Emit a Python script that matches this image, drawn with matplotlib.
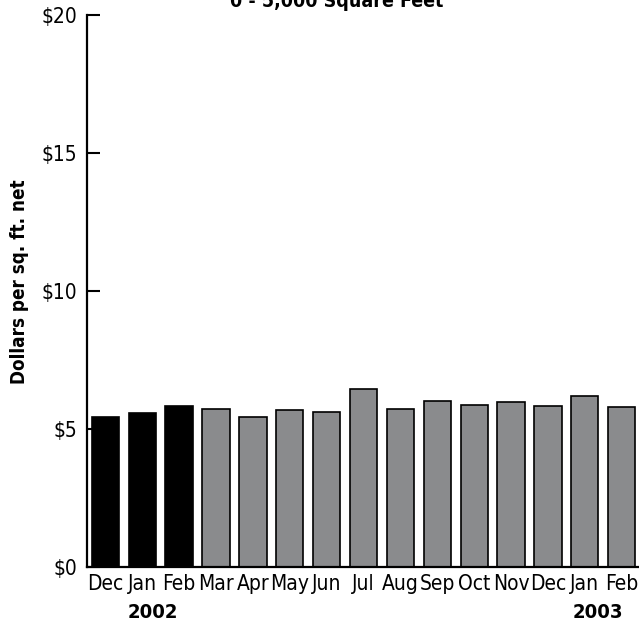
import matplotlib
matplotlib.use("Agg")
from matplotlib import pyplot as plt

months = ["Dec", "Jan", "Feb", "Mar", "Apr", "May", "Jun", "Jul",
          "Aug", "Sep", "Oct", "Nov", "Dec", "Jan", "Feb"]
values = [5.43, 5.58, 5.85, 5.71, 5.45, 5.69, 5.63, 6.46,
          5.73, 6.02, 5.87, 5.98, 5.84, 6.18, 5.80]
is_dark = [True, True, True] + [False] * 12
years = ["2002", "2003"]
year_pos = [1.3, 13.35]
yticks = [0, 5, 10, 15, 20]
ytick_labels = ["$0", "$5", "$10", "$15", "$20"]

plt.rcParams["font.family"] = ["DejaVu Sans"]
plt.rcParams["font.stretch"] = "condensed"

fig = plt.figure(figsize=(6.39, 6.29), dpi=100)
ax = fig.add_axes([0.136, 0.0986, 0.864, 0.8775])

colors = ["black" if d else "#8a8b8d" for d in is_dark]
x = list(range(len(months)))
ax.bar(x, values, width=0.74, color=colors, edgecolor="black", linewidth=1.2)

ax.set_xlim(-0.5, 14.47)
ax.set_ylim(0, 20)
ax.set_yticks(yticks)
ax.set_yticklabels(ytick_labels, fontsize=15)
ax.set_xticks(x)
ax.set_xticklabels(months, fontsize=15)
ax.tick_params(axis="y", direction="in", length=9.5, width=1.5, pad=7)
ax.tick_params(axis="x", length=0, pad=5)

for s in ["top", "right"]:
    ax.spines[s].set_visible(False)
ax.spines["left"].set_linewidth(1.6)
ax.spines["bottom"].set_linewidth(1.6)

for yr, p in zip(years, year_pos):
    ax.text(p, -1.65, yr, ha="center", va="center", fontsize=14.5,
            fontweight="bold", transform=ax.transData)

fig.text(0.031, 0.552, "Dollars per sq. ft. net", rotation=90, ha="center",
         va="center", fontsize=13.5, fontweight="bold")
fig.text(0.527, 0.997, "0 - 5,000 Square Feet", ha="center", va="center",
         fontsize=14, fontweight="bold")

fig.savefig("out.png", dpi=100)
